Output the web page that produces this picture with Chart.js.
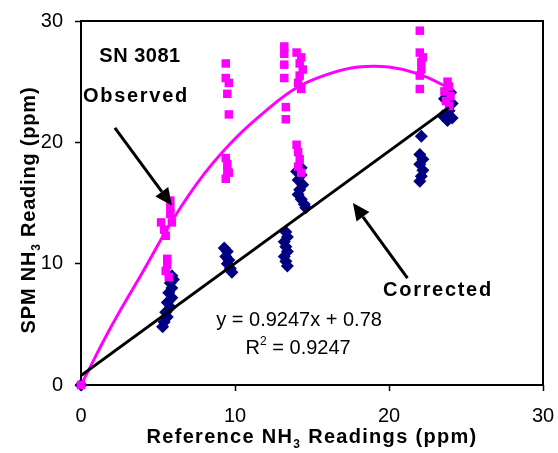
<!DOCTYPE html>
<html>
<head>
<meta charset="utf-8">
<script src="https://cdn.jsdelivr.net/npm/chart.js@4.4.0/dist/chart.umd.min.js"></script>
<style>
  html, body { margin: 0; padding: 0; background: #fff; }
  #chart { display: block; }
</style>
</head>
<body>
<canvas id="chart" width="558" height="453"></canvas>
<script>
// corrected readings (blue diamonds)
var correctedX = [0,
    5.3, 5.4, 5.6, 5.5, 5.8, 5.6, 5.9, 5.7, 5.9, 5.8, 6.0, 5.9,
    9.3, 9.5, 9.4, 9.6, 9.5, 9.7, 9.8,
    13.3, 13.4, 13.2, 13.3, 13.4, 13.2, 13.3, 13.4,
    14.3, 14.0, 14.3, 14.1, 14.4, 14.2, 14.1, 14.3, 14.5, 14.6,
    22.1, 22.0, 22.2, 22.0, 22.2, 22.1, 22.0,
    24.0, 23.6, 24.1, 23.9, 23.5, 23.8, 24.1];
var correctedY = [0,
    4.8, 5.2, 5.6, 6.0, 6.4, 6.8, 7.2, 7.6, 8.0, 8.4, 8.7, 9.0,
    11.3, 11.0, 10.6, 10.3, 10.0, 9.6, 9.3,
    12.6, 12.2, 11.8, 11.4, 11.0, 10.6, 10.2, 9.8,
    17.9, 17.6, 17.3, 16.9, 16.5, 16.1, 15.7, 15.3, 14.9, 14.6,
    20.5, 19.0, 18.6, 18.2, 17.7, 17.2, 16.8,
    24.1, 23.6, 23.2, 22.6, 22.2, 21.8, 22.0];

// observed readings (pink squares)
var observedX = [0,
    5.8, 5.8, 5.8, 5.2, 5.9, 5.4, 5.5, 5.6, 5.6, 5.5, 5.7,
    9.4, 9.4, 9.6, 9.5, 9.6, 9.4, 9.5, 9.5, 9.4, 9.6,
    13.2, 13.2, 13.2, 13.2, 13.3, 13.3,
    14.0, 14.3, 14.2, 14.4, 14.2, 14.1, 14.3, 14.0, 14.1, 14.2, 14.1, 14.3,
    22.0, 22.0, 22.2, 22.1, 22.1, 22.0, 22.0,
    23.8, 23.9, 23.6, 24.0, 23.7, 23.9];
var observedY = [0,
    15.2, 14.6, 14.1, 13.4, 13.4, 12.8, 12.3, 10.4, 9.9, 9.4, 8.9,
    26.5, 25.3, 24.9, 24.0, 22.3, 18.7, 18.2, 17.6, 17.0, 17.5,
    27.9, 27.3, 26.4, 25.3, 22.9, 21.9,
    27.4, 27.0, 26.5, 26.0, 25.5, 24.9, 24.4, 19.8, 19.2, 18.6, 18.0, 17.5,
    29.2, 27.4, 27.0, 26.6, 26.0, 25.5, 24.4,
    25.0, 24.6, 24.2, 23.8, 23.4, 23.0];

// trend lines
var fitX = [0, 2, 4, 6, 8, 10, 12, 14, 16, 18, 20, 22, 24];
var fitY = [0, 4.9, 9.3, 13.7, 17.4, 20.3, 22.6, 24.5, 25.6, 26.2, 26.2, 25.6, 24.4];
var lineX = [0, 23.9];
var lineY = [0.78, 22.88];

var tickValues = [0, 10, 20, 30];

// notes on the plot (data units), _x_ = subscript, ^x^ = superscript
var noteText = ['SN 3081', 'Observed', 'Corrected', 'y = 0.9247x + 0.78', 'R^2^ = 0.9247'];
var noteX = [3.83, 3.57, 23.18, 14.16, 14.1];
var noteY = [27.1, 23.8, 7.83, 5.3, 3.05];
var noteBold = [true, true, true, false, false];
var noteSpacing = [0.5, 1.7, 1.7, 0, 0];

var arrowFrom = [[2.2, 21.2], [21.2, 8.8]];
var arrowTo = [[5.9, 14.8], [17.66, 15.0]];

var xTitle = 'Reference NH_3_ Readings (ppm)';
var yTitle = 'SPM NH_3_ Reading (ppm)';

var FONT = '"Liberation Sans", Arial, sans-serif';

function pts(xs, ys) {
    return xs.map(function (x, i) { return { x: x, y: ys[i] }; });
}

function drawRich(ctx, str, x, y, size, bold, spacing) {
    var parts = str.split(/(_[^_]+_|\^[^^]+\^)/).filter(Boolean);
    var w = bold ? 'bold ' : '';
    var base = w + size + 'px ' + FONT;
    var small = w + Math.round(size * 0.62) + 'px ' + FONT;
    ctx.letterSpacing = spacing + 'px';
    var items = parts.map(function (p) {
        var kind = p[0] === '_' ? 'sub' : (p[0] === '^' ? 'sup' : 'n');
        var t = kind === 'n' ? p : p.slice(1, -1);
        ctx.font = kind === 'n' ? base : small;
        return { t: t, kind: kind, w: ctx.measureText(t).width };
    });
    var total = items.reduce(function (a, b) { return a + b.w; }, 0);
    var cx = x - total / 2;
    ctx.textAlign = 'left';
    ctx.textBaseline = 'middle';
    ctx.fillStyle = '#000';
    items.forEach(function (it) {
        ctx.font = it.kind === 'n' ? base : small;
        var dy = it.kind === 'sub' ? size * 0.36 : (it.kind === 'sup' ? -size * 0.3 : 0);
        ctx.fillText(it.t, cx, y + dy);
        cx += it.w;
    });
    ctx.letterSpacing = '0px';
}

function drawArrow(ctx, x0, y0, x1, y1) {
    var ang = Math.atan2(y1 - y0, x1 - x0);
    var headLen = 17, headW = 8;
    var bx = x1 - Math.cos(ang) * headLen, by = y1 - Math.sin(ang) * headLen;
    ctx.strokeStyle = '#000';
    ctx.lineWidth = 3;
    ctx.beginPath();
    ctx.moveTo(x0, y0);
    ctx.lineTo(bx, by);
    ctx.stroke();
    ctx.fillStyle = '#000';
    ctx.beginPath();
    ctx.moveTo(x1, y1);
    ctx.lineTo(bx + Math.sin(ang) * headW, by - Math.cos(ang) * headW);
    ctx.lineTo(bx - Math.sin(ang) * headW, by + Math.cos(ang) * headW);
    ctx.closePath();
    ctx.fill();
}

var framePlugin = {
    id: 'frame',
    beforeDatasetsDraw: function (chart) {
        var a = chart.chartArea, ctx = chart.ctx;
        ctx.save();
        ctx.strokeStyle = '#000';
        ctx.lineWidth = 2;
        ctx.strokeRect(a.left, a.top, a.right - a.left, a.bottom - a.top);
        ctx.restore();
    },
    afterDraw: function (chart) {
        var ctx = chart.ctx, xs = chart.scales.x, ys = chart.scales.y, a = chart.chartArea;
        ctx.save();
        noteText.forEach(function (t, i) {
            drawRich(ctx, t, xs.getPixelForValue(noteX[i]), ys.getPixelForValue(noteY[i]),
                20, noteBold[i], noteSpacing[i]);
        });
        arrowFrom.forEach(function (f, i) {
            drawArrow(ctx, xs.getPixelForValue(f[0]), ys.getPixelForValue(f[1]),
                xs.getPixelForValue(arrowTo[i][0]), ys.getPixelForValue(arrowTo[i][1]));
        });
        drawRich(ctx, xTitle, (a.left + a.right) / 2, 437, 20, true, 1.3);
        ctx.translate(29, 210);
        ctx.rotate(-Math.PI / 2);
        drawRich(ctx, yTitle, 0, 0, 20, true, 0.8);
        ctx.restore();
    }
};

function axis() {
    return {
        type: 'linear',
        min: 0,
        max: 30,
        afterBuildTicks: function (s) { s.ticks = tickValues.map(function (v) { return { value: v }; }); },
        grid: { drawOnChartArea: false, drawTicks: true, tickLength: 6, tickColor: '#000', tickWidth: 1.5 },
        border: { display: false },
        ticks: { color: '#000', font: { family: FONT, size: 20 }, maxRotation: 0 }
    };
}

var xAxis = axis();
xAxis.afterFit = function (s) { s.height = 68; s.paddingLeft = 0; s.paddingRight = 0; };
xAxis.ticks.padding = 13;
var yAxis = axis();
yAxis.afterFit = function (s) { s.width = 81; s.paddingTop = 0; s.paddingBottom = 0; };
yAxis.ticks.padding = 12;

new Chart(document.getElementById('chart').getContext('2d'), {
    type: 'scatter',
    data: {
        datasets: [{
            label: 'Linear (Corrected)',
            data: pts(lineX, lineY),
            showLine: true,
            borderColor: '#000',
            borderWidth: 3,
            pointRadius: 0,
            order: 0
        }, {
            label: 'Poly. (Observed)',
            data: pts(fitX, fitY),
            showLine: true,
            borderColor: '#ff00ff',
            borderWidth: 3,
            pointRadius: 0,
            tension: 0.4,
            order: 1
        }, {
            label: 'Observed',
            data: pts(observedX, observedY),
            pointStyle: 'rect',
            pointRadius: 6,
            backgroundColor: '#ff00ff',
            borderWidth: 0,
            clip: false,
            order: 2
        }, {
            label: 'Corrected',
            data: pts(correctedX, correctedY),
            pointStyle: 'rectRot',
            pointRadius: 6.5,
            backgroundColor: '#000080',
            borderWidth: 0,
            clip: false,
            order: 3
        }]
    },
    options: {
        responsive: false,
        animation: false,
        devicePixelRatio: 1,
        layout: { padding: { top: 21, right: 15, left: 0, bottom: 0 } },
        plugins: { legend: { display: false }, tooltip: { enabled: false } },
        scales: { x: xAxis, y: yAxis }
    },
    plugins: [framePlugin]
});
</script>
</body>
</html>
